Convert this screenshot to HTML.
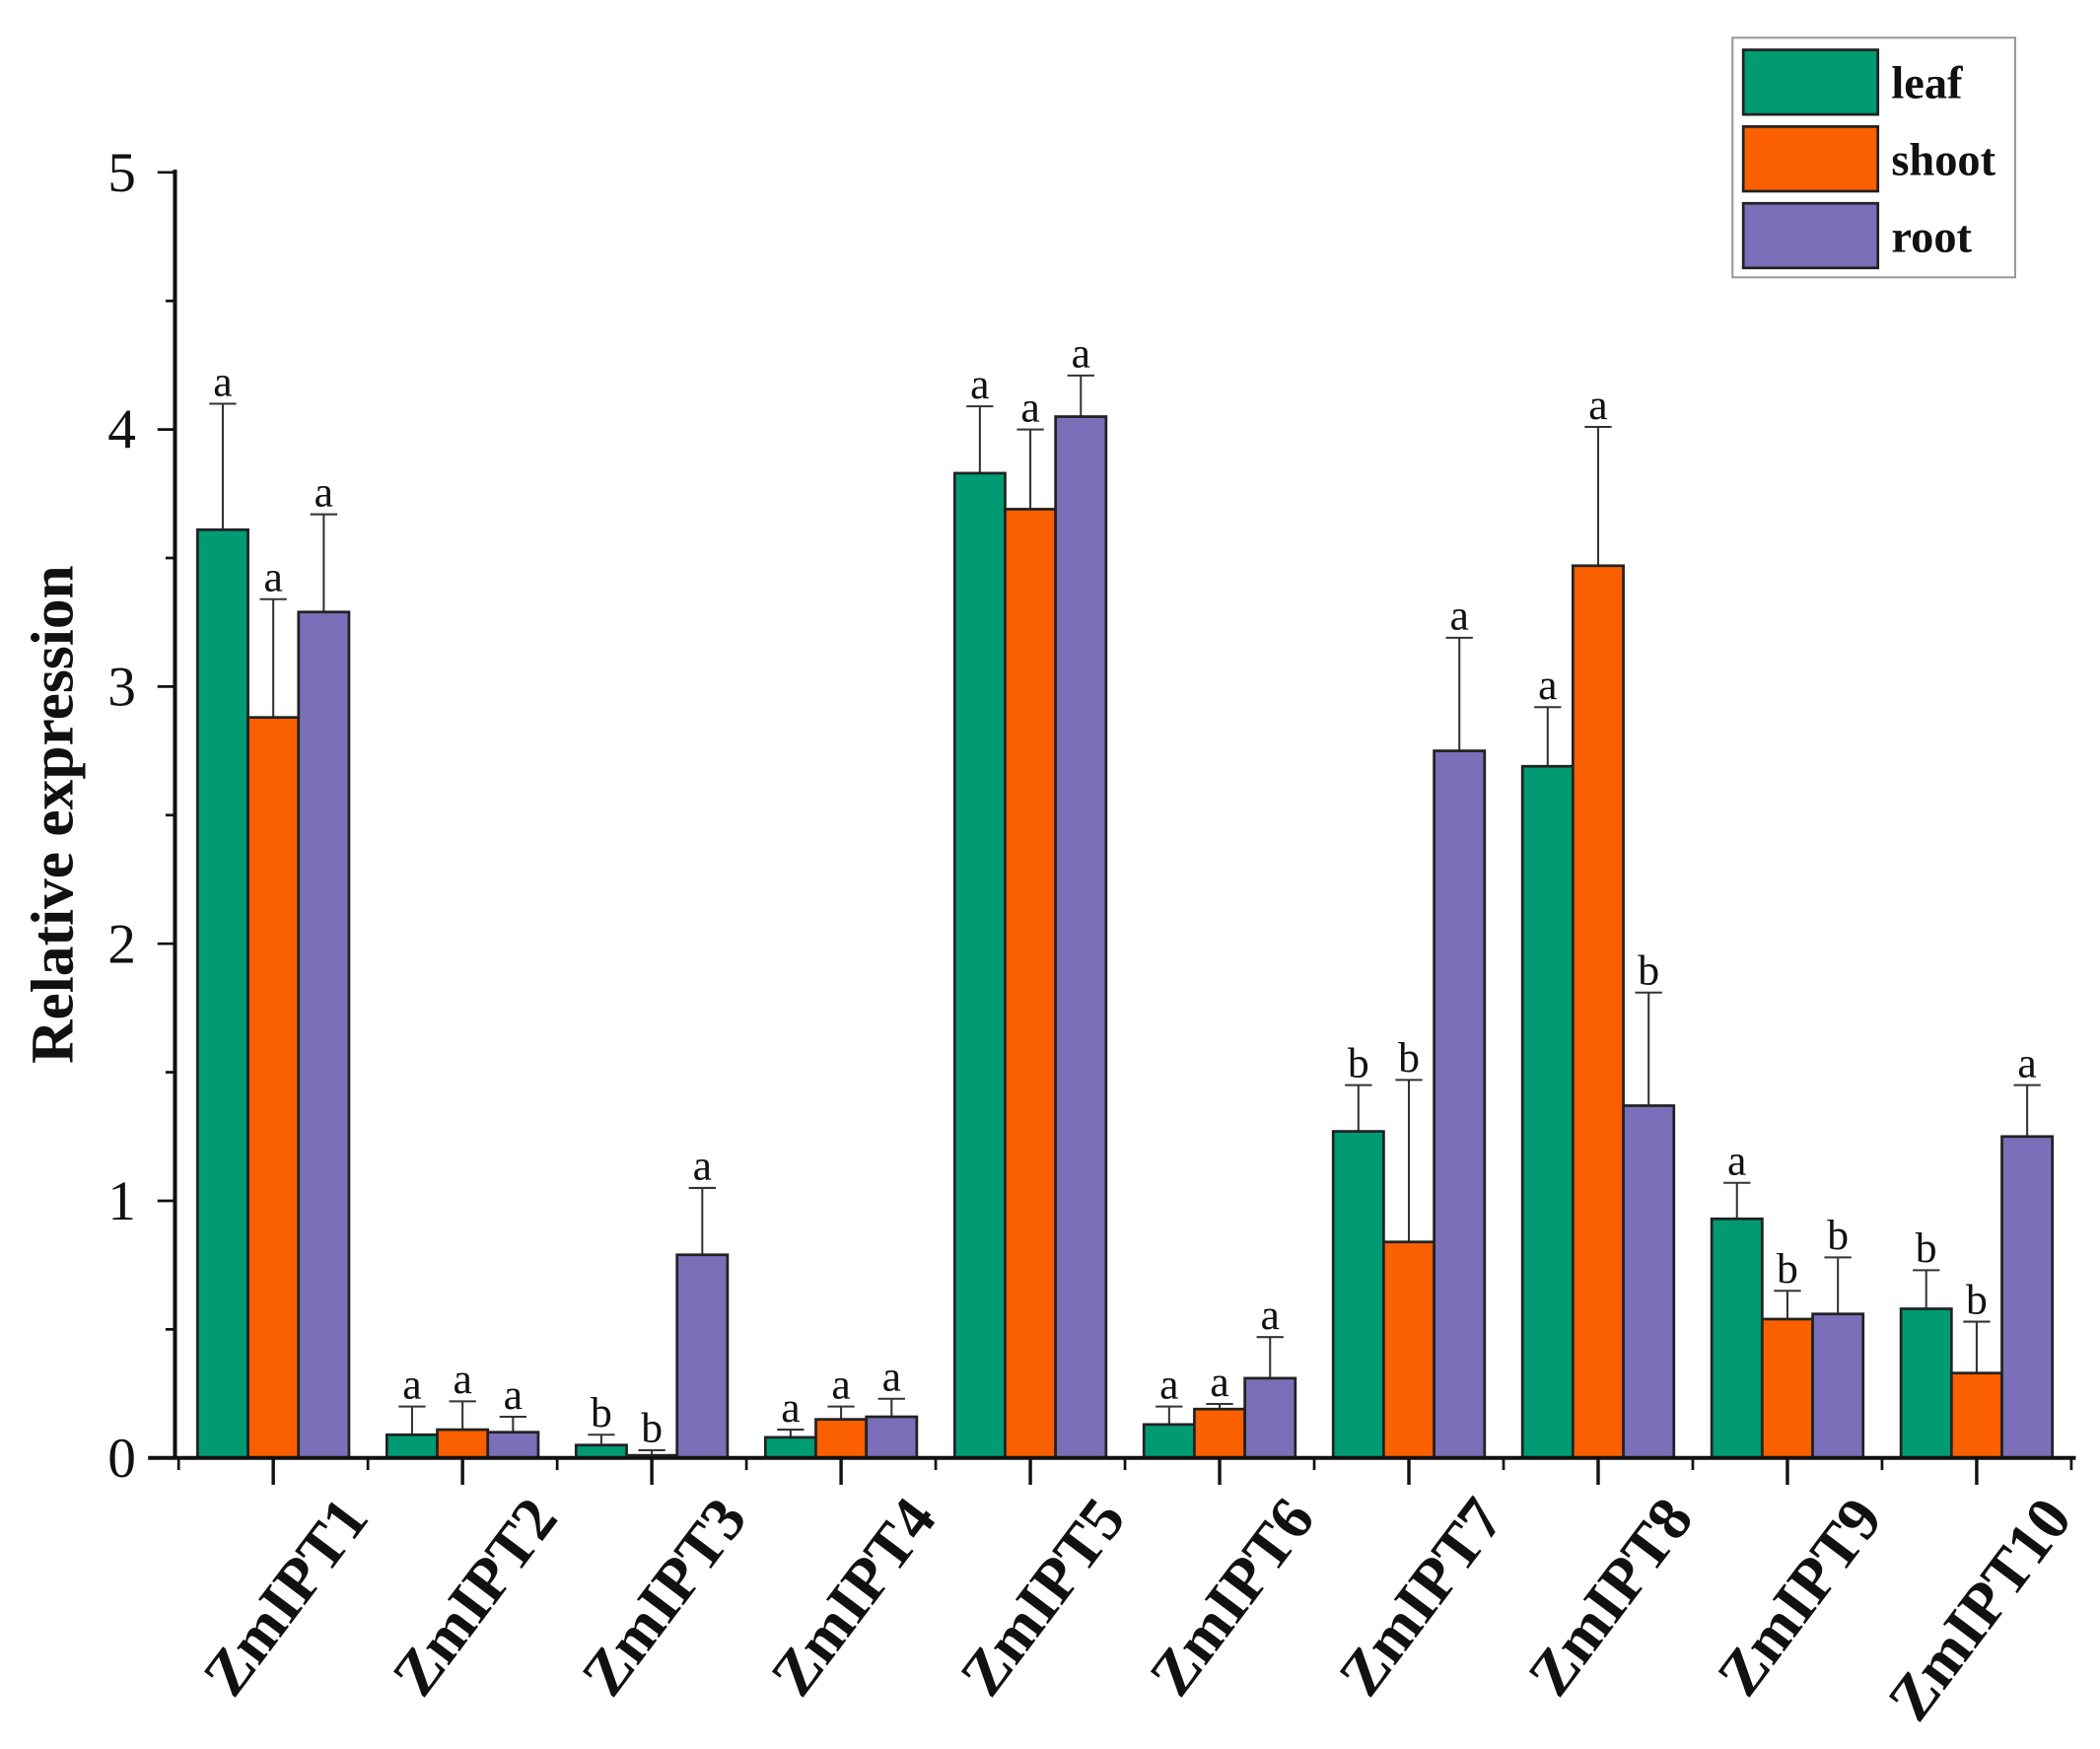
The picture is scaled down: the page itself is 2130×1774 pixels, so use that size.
<!DOCTYPE html>
<html><head><meta charset="utf-8"><style>html,body{margin:0;padding:0;background:#fff}svg{display:block}</style></head>
<body>
<svg id="chart" width="2130" height="1774" viewBox="0 0 1560 1299.2" xmlns="http://www.w3.org/2000/svg" font-family="'Liberation Serif', serif"></svg>
<script>
const categories = ["ZmIPT1","ZmIPT2","ZmIPT3","ZmIPT4","ZmIPT5","ZmIPT6","ZmIPT7","ZmIPT8","ZmIPT9","ZmIPT10"];
const seriesNames = ["leaf","shoot","root"];
const leafValues = [3.61,0.09,0.05,0.08,3.83,0.13,1.27,2.69,0.93,0.58];
const shootValues = [2.88,0.11,0.01,0.15,3.69,0.19,0.84,3.47,0.54,0.33];
const rootValues = [3.29,0.10,0.79,0.16,4.05,0.31,2.75,1.37,0.56,1.25];
const leafErrTop = [4.10,0.20,0.09,0.11,4.09,0.20,1.45,2.92,1.07,0.73];
const shootErrTop = [3.34,0.22,0.03,0.20,4.00,0.21,1.47,4.01,0.65,0.53];
const rootErrTop = [3.67,0.16,1.05,0.23,4.21,0.47,3.19,1.81,0.78,1.45];
const leafLetters = ["a","a","b","a","a","a","b","a","a","b"];
const shootLetters = ["a","a","b","a","a","a","b","a","b","b"];
const rootLetters = ["a","a","a","a","a","a","a","b","b","a"];
const yTicks = [0,1,2,3,4,5];

const colors = ["#009a73","#fa5f00","#7a6fb8"];
const svg = document.getElementById('chart');
const NS = "http://www.w3.org/2000/svg";
const x0 = 130, base = 1083, yTop = 128, yMax = 5;
const first = 203, step = 140.6, bw = 37.5;
function y(v){ return base - v/yMax*(base-yTop); }
function xc(i){ return first + i*step; }
function mk(tag, attrs, parent){ const e=document.createElementNS(NS,tag); for(const k in attrs) e.setAttribute(k,attrs[k]); (parent||svg).appendChild(e); return e; }

const vals=[leafValues,shootValues,rootValues], errs=[leafErrTop,shootErrTop,rootErrTop], lets=[leafLetters,shootLetters,rootLetters];
const bars = mk('g',{});
 
categories.forEach((c,i)=>{
  for(let s=0;s<3;s++){
    const bx = xc(i) + (s-1.5)*bw;
    const cx = bx + bw/2;
    const el = mk('line',{x1:cx,x2:cx,y1:y(vals[s][i]),y2:y(errs[s][i]),stroke:'#333','stroke-width':1.5},bars);
    
    
    const cap = mk('line',{x1:cx-10,x2:cx+10,y1:y(errs[s][i]),y2:y(errs[s][i]),stroke:'#333','stroke-width':1.5},bars);
    
    
    const r = mk('rect',{x:bx,y:y(vals[s][i]),width:bw,height:base-y(vals[s][i]),fill:colors[s],stroke:'#222','stroke-width':2},bars);
    
    
    const t = mk('text',{x:cx,y:y(errs[s][i])-6,'text-anchor':'middle','font-size':32,fill:'#111'},bars);
    t.textContent = lets[s][i];
    
    
  }
});

const ax = mk('g',{stroke:'#111','stroke-width':3});
 
mk('line',{x1:x0,x2:x0,y1:yTop-2,y2:base},ax);
mk('line',{x1:110,x2:1542,y1:base,y2:base},ax);
for(let v=0; v<=yMax+0.001; v+=0.5){
  const major = Math.abs(v-Math.round(v))<0.01;
  mk('line',{x1:x0-(major?13:7),x2:x0,y1:y(v),y2:y(v),'stroke-width':2},ax);
}
yTicks.forEach(v=>{
  const t = mk('text',{x:101,y:y(v)+14,'text-anchor':'end','font-size':42,fill:'#111'});
  t.textContent = v;
  
  
});
categories.forEach((c,i)=>{
  mk('line',{x1:xc(i),x2:xc(i),y1:base,y2:base+20,'stroke-width':2.5},ax);
  mk('line',{x1:xc(i)-step/2,x2:xc(i)-step/2,y1:base,y2:base+9,'stroke-width':2},ax);
  const tx = xc(i)+72, ty = 1128;
  const t = mk('text',{x:tx,y:ty,'text-anchor':'end','font-size':46,'font-weight':'bold',fill:'#111',transform:`rotate(-53 ${tx} ${ty})`});
  t.textContent = c;
  
  
});
mk('line',{x1:xc(9)+step/2,x2:xc(9)+step/2,y1:base,y2:base+9,stroke:'#111','stroke-width':2});
const yt = mk('text',{x:54,y:605,'text-anchor':'middle','font-size':45,'font-weight':'bold',fill:'#111',transform:'rotate(-90 54 605)'});
yt.textContent = 'Relative expression';



const lg = mk('g',{});
 
mk('rect',{x:1287,y:28,width:210,height:178,fill:'#fff',stroke:'#999','stroke-width':1.5},lg);
seriesNames.forEach((n,s)=>{
  const ry = 37 + s*57;
  const sw = mk('rect',{x:1295,y:ry,width:100,height:48,fill:colors[s],stroke:'#222','stroke-width':2},lg);
  
  
  const t = mk('text',{x:1405,y:ry+36,'font-size':34,'font-weight':'bold',fill:'#111'},lg);
  t.textContent = n;
  
  
});
</script>
</body></html>
